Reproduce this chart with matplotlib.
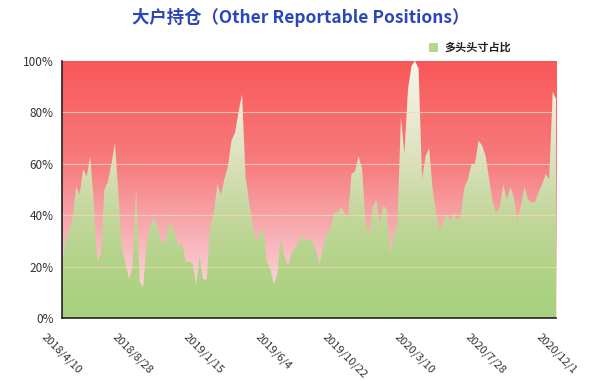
import numpy as np
import matplotlib
matplotlib.use("Agg")
import matplotlib.pyplot as plt
from matplotlib.colors import LinearSegmentedColormap

plt.rcParams['font.family'] = ['Noto Sans CJK SC', 'DejaVu Sans']

# weekly long-position share (%)
long_pct = [
    20, 30, 34, 39, 51, 48, 58, 55, 63, 45,
    22, 25, 50, 53, 60, 68, 48, 27, 21, 15,
    20, 50, 14, 12, 29, 36, 39, 36, 30, 29,
    35, 37, 33, 28, 29, 22, 22, 21, 13, 24,
    15, 15, 36, 41, 52, 48, 54, 59, 69, 72,
    80, 87, 55, 45, 37, 30, 33, 35, 22, 19,
    13, 17, 31, 24, 20, 25, 27, 30, 32, 30,
    31, 30, 26, 21, 28, 33, 34, 41, 41, 43,
    41, 39, 56, 57, 63, 58, 37, 33, 43, 46,
    37, 44, 42, 25, 33, 36, 78, 64, 89, 98,
    100, 97, 54, 63, 66, 50, 41, 34, 38, 40,
    38, 41, 38, 40, 51, 54, 60, 60, 69, 67,
    63, 54, 45, 41, 43, 52, 46, 51, 47, 38,
    44, 51, 46, 45, 45, 49, 52, 56, 54, 88,
    85,
]
tick_labels = ['2018/4/10', '2018/8/28', '2019/1/15', '2019/6/4',
               '2019/10/22', '2020/3/10', '2020/7/28', '2020/12/1']
tick_step = 20
y_ticks = [0, 20, 40, 60, 80, 100]

x = np.arange(len(long_pct))
y = np.array(long_pct, dtype=float)

fig = plt.figure(figsize=(6.02, 3.8), dpi=100)
ax = fig.add_axes([0.103, 0.163, 0.821, 0.677])
x0, x1 = x[0], x[-1]

# red background gradient (short side)
red_cmap = LinearSegmentedColormap.from_list('reds', [
    (0.0, '#fde6e8'), (0.2, '#f9c6cb'), (0.4, '#f7a2a6'),
    (0.6, '#f77c7e'), (1.0, '#f95858')])
grad = np.linspace(0, 1, 256).reshape(-1, 1)
ax.imshow(grad, cmap=red_cmap, origin='lower', aspect='auto',
          extent=[x0, x1, 0, 100], zorder=0)

# green area gradient (long side), clipped to the series
green_cmap = LinearSegmentedColormap.from_list('greens', [
    (0.0, '#a6d17d'), (0.2, '#b2d388'), (0.4, '#c3d79c'),
    (0.6, '#d9e0ba'), (0.8, '#ecebd6'), (1.0, '#f8f6ec')])
img = ax.imshow(grad, cmap=green_cmap, origin='lower', aspect='auto',
                extent=[x0, x1, 0, 100], zorder=1)
poly = ax.fill_between(x, 0, y, facecolor='none', edgecolor='none')
img.set_clip_path(poly.get_paths()[0], transform=ax.transData)

for v in y_ticks[1:-1]:
    ax.axhline(v, color='#f3d9b5', lw=0.8, alpha=0.8, zorder=2)

ax.set_xlim(x0, x1)
ax.set_ylim(0, 100)
ax.set_yticks(y_ticks)
ax.set_yticklabels([f'{v}%' for v in y_ticks], fontsize=8.5, color='#333333')
ax.set_xticks(x[::tick_step])
ax.set_xticklabels(tick_labels, rotation=-45, ha='center', va='top',
                   fontsize=8, color='#333333')
ax.tick_params(length=0, pad=6)
ax.tick_params(axis='x', pad=10)
for s in ['top', 'right']:
    ax.spines[s].set_visible(False)
for s in ['left', 'bottom']:
    ax.spines[s].set_color('#222222')
    ax.spines[s].set_linewidth(1.2)

fig.text(0.5, 0.955, '大户持仓（Other Reportable Positions）', ha='center', va='center',
         fontsize=12.5, fontweight='bold', color='#2b46b8')
fig.patches.append(plt.Rectangle((0.712, 0.863), 0.016, 0.025, transform=fig.transFigure,
                                 facecolor='#b5d690', edgecolor='none'))
fig.text(0.738, 0.876, '多头头寸占比', ha='left', va='center', fontsize=8,
         fontweight='bold', color='#222222')

fig.savefig('out.png', dpi=100)
